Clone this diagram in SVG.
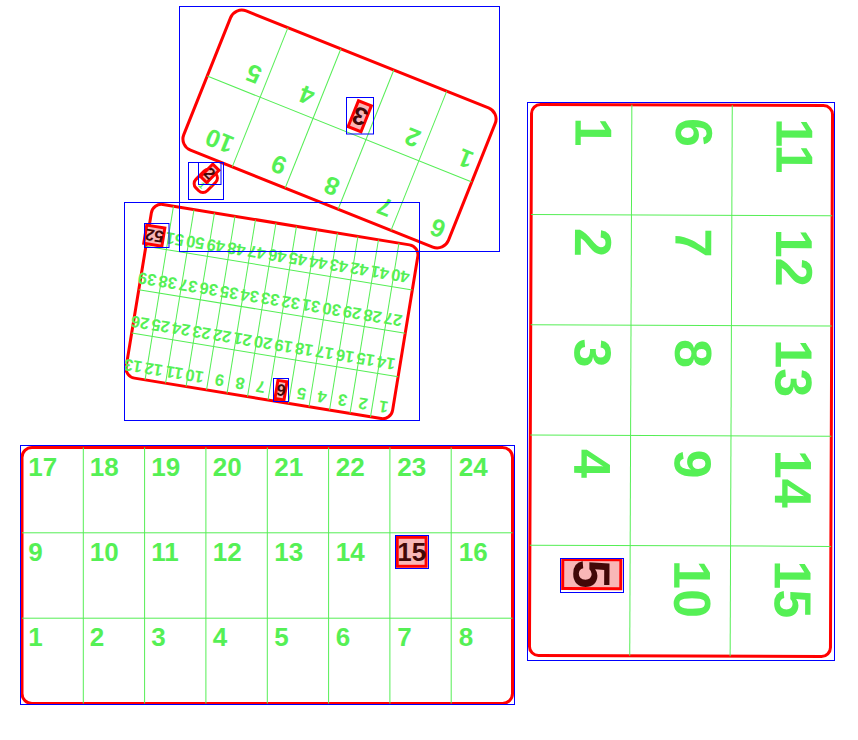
<svg xmlns="http://www.w3.org/2000/svg" width="858" height="740" viewBox="0 0 858 740">
<style>
.card{fill:none;stroke:#ff0000;stroke-width:3}
.grid{stroke:#55ee55;stroke-width:1;fill:none}
.lbl{font-family:"Liberation Sans",Arial,sans-serif;font-weight:bold;fill:#55f055}
.hl{fill:#f9b7b7;stroke:#ff0000;stroke-width:3}
.hlt{font-family:"Liberation Sans",Arial,sans-serif;font-weight:bold;fill:#420808}
.bb{fill:none;stroke:#0000ff;stroke-width:1}
</style>
<rect width="858" height="740" fill="#ffffff"/>

<g id="card-top" transform="translate(339.5,129) rotate(201.8)">
  <rect class="card" x="-142.5" y="-75" width="285" height="150" rx="12"/>
  <g class="grid">
    <line x1="-142.5" y1="0" x2="142.5" y2="0"/>
    <line x1="-85.5" y1="-75" x2="-85.5" y2="75"/>
    <line x1="-28.5" y1="-75" x2="-28.5" y2="75"/>
    <line x1="28.5" y1="-75" x2="28.5" y2="75"/>
    <line x1="85.5" y1="-75" x2="85.5" y2="75"/>
  </g>
  <rect class="hl" x="-21" y="5.4" width="13.9" height="27.9"/>
  <g class="lbl" font-size="25">
    <text x="-135" y="28">1</text>
    <text x="-78" y="28">2</text>
    <text x="36" y="28">4</text>
    <text x="93" y="28">5</text>
    <text x="-135" y="-47">6</text>
    <text x="-78" y="-47">7</text>
    <text x="-21" y="-47">8</text>
    <text x="36" y="-47">9</text>
    <text x="93" y="-47">10</text>
  </g>
  <text class="hlt" font-size="25" x="-21" y="28">3</text>
</g>

<g id="card-tiny" transform="translate(205.8,180.8) rotate(45)">
  <rect class="card" x="-8" y="-12" width="16" height="24" rx="6"/>
  <line class="grid" x1="-8" y1="0" x2="8" y2="0"/>
  <text class="lbl" font-size="9" x="-2" y="9">1</text>
  <rect class="hl" x="-6.85" y="-16.8" width="8.7" height="17.4"/>
  <text class="hlt" font-size="15.6" x="-6.85" y="-2.7">2</text>
</g>

<g id="card-middle" transform="translate(272,311.5) rotate(189.3)">
  <rect class="card" x="-135" y="-88" width="270" height="176" rx="10"/>
  <g class="grid">
    <line x1="-135" y1="-44" x2="135" y2="-44"/>
    <line x1="-135" y1="0" x2="135" y2="0"/>
    <line x1="-135" y1="44" x2="135" y2="44"/>
    <line x1="-114.23" y1="-88" x2="-114.23" y2="88"/>
    <line x1="-93.46" y1="-88" x2="-93.46" y2="88"/>
    <line x1="-72.69" y1="-88" x2="-72.69" y2="88"/>
    <line x1="-51.92" y1="-88" x2="-51.92" y2="88"/>
    <line x1="-31.15" y1="-88" x2="-31.15" y2="88"/>
    <line x1="-10.38" y1="-88" x2="-10.38" y2="88"/>
    <line x1="10.38" y1="-88" x2="10.38" y2="88"/>
    <line x1="31.15" y1="-88" x2="31.15" y2="88"/>
    <line x1="51.92" y1="-88" x2="51.92" y2="88"/>
    <line x1="72.69" y1="-88" x2="72.69" y2="88"/>
    <line x1="93.46" y1="-88" x2="93.46" y2="88"/>
    <line x1="114.23" y1="-88" x2="114.23" y2="88"/>
  </g>
  <rect class="hl" x="-26.15" y="-85.43" width="9.17" height="18.43"/>
  <rect class="hl" x="119.23" y="46.57" width="18.35" height="18.43"/>
  <g class="lbl" font-size="16.5">
    <text x="-130" y="-70.5">1</text>
    <text x="-109.23" y="-70.5">2</text>
    <text x="-88.46" y="-70.5">3</text>
    <text x="-67.69" y="-70.5">4</text>
    <text x="-46.92" y="-70.5">5</text>
    <text x="-5.38" y="-70.5">7</text>
    <text x="15.38" y="-70.5">8</text>
    <text x="36.15" y="-70.5">9</text>
    <text x="56.92" y="-70.5">10</text>
    <text x="77.69" y="-70.5">11</text>
    <text x="98.46" y="-70.5">12</text>
    <text x="119.23" y="-70.5">13</text>
    <text x="-130" y="-26.5">14</text>
    <text x="-109.23" y="-26.5">15</text>
    <text x="-88.46" y="-26.5">16</text>
    <text x="-67.69" y="-26.5">17</text>
    <text x="-46.92" y="-26.5">18</text>
    <text x="-26.15" y="-26.5">19</text>
    <text x="-5.38" y="-26.5">20</text>
    <text x="15.38" y="-26.5">21</text>
    <text x="36.15" y="-26.5">22</text>
    <text x="56.92" y="-26.5">23</text>
    <text x="77.69" y="-26.5">24</text>
    <text x="98.46" y="-26.5">25</text>
    <text x="119.23" y="-26.5">26</text>
    <text x="-130" y="17.5">27</text>
    <text x="-109.23" y="17.5">28</text>
    <text x="-88.46" y="17.5">29</text>
    <text x="-67.69" y="17.5">30</text>
    <text x="-46.92" y="17.5">31</text>
    <text x="-26.15" y="17.5">32</text>
    <text x="-5.38" y="17.5">33</text>
    <text x="15.38" y="17.5">34</text>
    <text x="36.15" y="17.5">35</text>
    <text x="56.92" y="17.5">36</text>
    <text x="77.69" y="17.5">37</text>
    <text x="98.46" y="17.5">38</text>
    <text x="119.23" y="17.5">39</text>
    <text x="-130" y="61.5">40</text>
    <text x="-109.23" y="61.5">41</text>
    <text x="-88.46" y="61.5">42</text>
    <text x="-67.69" y="61.5">43</text>
    <text x="-46.92" y="61.5">44</text>
    <text x="-26.15" y="61.5">45</text>
    <text x="-5.38" y="61.5">46</text>
    <text x="15.38" y="61.5">47</text>
    <text x="36.15" y="61.5">48</text>
    <text x="56.92" y="61.5">49</text>
    <text x="77.69" y="61.5">50</text>
    <text x="98.46" y="61.5">51</text>
  </g>
  <text class="hlt" font-size="16.5" x="-26.15" y="-70.5">6</text>
  <text class="hlt" font-size="16.5" x="119.23" y="61.5">52</text>
</g>

<g id="card-bottom">
  <rect class="card" x="22" y="447.5" width="490.5" height="256" rx="10"/>
  <g class="grid">
    <line x1="22" y1="532.8" x2="512.5" y2="532.8"/>
    <line x1="22" y1="618.2" x2="512.5" y2="618.2"/>
    <line x1="83.3" y1="447.5" x2="83.3" y2="703.5"/>
    <line x1="144.6" y1="447.5" x2="144.6" y2="703.5"/>
    <line x1="205.9" y1="447.5" x2="205.9" y2="703.5"/>
    <line x1="267.3" y1="447.5" x2="267.3" y2="703.5"/>
    <line x1="328.6" y1="447.5" x2="328.6" y2="703.5"/>
    <line x1="389.9" y1="447.5" x2="389.9" y2="703.5"/>
    <line x1="451.2" y1="447.5" x2="451.2" y2="703.5"/>
  </g>
  <rect class="hl" x="397.2" y="537.3" width="28.9" height="29"/>
  <g class="lbl" font-size="26">
    <text x="28.2" y="475.5">17</text>
    <text x="89.7" y="475.5">18</text>
    <text x="151.2" y="475.5">19</text>
    <text x="212.7" y="475.5">20</text>
    <text x="274.2" y="475.5">21</text>
    <text x="335.7" y="475.5">22</text>
    <text x="397.2" y="475.5">23</text>
    <text x="458.7" y="475.5">24</text>
    <text x="28.2" y="560.8">9</text>
    <text x="89.7" y="560.8">10</text>
    <text x="151.2" y="560.8">11</text>
    <text x="212.7" y="560.8">12</text>
    <text x="274.2" y="560.8">13</text>
    <text x="335.7" y="560.8">14</text>
    <text x="458.7" y="560.8">16</text>
    <text x="28.2" y="646.2">1</text>
    <text x="89.7" y="646.2">2</text>
    <text x="151.2" y="646.2">3</text>
    <text x="212.7" y="646.2">4</text>
    <text x="274.2" y="646.2">5</text>
    <text x="335.7" y="646.2">6</text>
    <text x="397.2" y="646.2">7</text>
    <text x="458.7" y="646.2">8</text>
  </g>
  <text class="hlt" font-size="26" x="397.2" y="560.8">15</text>
</g>

<g id="card-right" transform="rotate(0.22,681,380.5)">
  <rect class="card" x="530.5" y="105" width="301" height="551" rx="9"/>
  <g class="grid">
    <line x1="630.8" y1="105" x2="630.8" y2="656"/>
    <line x1="731.2" y1="105" x2="731.2" y2="656"/>
    <line x1="530.5" y1="215.2" x2="831.5" y2="215.2"/>
    <line x1="530.5" y1="325.4" x2="831.5" y2="325.4"/>
    <line x1="530.5" y1="435.6" x2="831.5" y2="435.6"/>
    <line x1="530.5" y1="545.8" x2="831.5" y2="545.8"/>
  </g>
  <g class="lbl" font-size="52">
    <text transform="translate(574.5,118) rotate(90)">1</text>
    <text transform="translate(574.5,228.5) rotate(90)">2</text>
    <text transform="translate(574.5,339) rotate(90)">3</text>
    <text transform="translate(574.5,449.5) rotate(90)">4</text>
    <text transform="translate(675,118) rotate(90)">6</text>
    <text transform="translate(675,228.5) rotate(90)">7</text>
    <text transform="translate(675,339) rotate(90)">8</text>
    <text transform="translate(675,449.5) rotate(90)">9</text>
    <text transform="translate(675,560) rotate(90)">10</text>
    <text transform="translate(775.5,118) rotate(90)">11</text>
    <text transform="translate(775.5,228.5) rotate(90)">12</text>
    <text transform="translate(775.5,339) rotate(90)">13</text>
    <text transform="translate(775.5,449.5) rotate(90)">14</text>
    <text transform="translate(775.5,560) rotate(90)">15</text>
  </g>
  <g transform="translate(574.5,560) rotate(90)">
    <rect class="hl" x="0" y="-47.06" width="28.9" height="58.08"/>
    <text class="hlt" font-size="52">5</text>
  </g>
</g>

<g id="bounds">
  <rect class="bb" x="179.5" y="6.5" width="320" height="245"/>
  <rect class="bb" x="346.5" y="97.5" width="27" height="36.5"/>
  <rect class="bb" x="188.5" y="162.5" width="35" height="37"/>
  <rect class="bb" x="198.5" y="162.5" width="22.5" height="22"/>
  <rect class="bb" x="124.5" y="202.5" width="295" height="218"/>
  <rect class="bb" x="144.5" y="223.5" width="24.5" height="24"/>
  <rect class="bb" x="273.5" y="378.5" width="15" height="23"/>
  <rect class="bb" x="20.5" y="445.5" width="494" height="259"/>
  <rect class="bb" x="395.5" y="535.5" width="33" height="33"/>
  <rect class="bb" x="527.5" y="102.5" width="307" height="558"/>
  <rect class="bb" x="560.5" y="558.5" width="63" height="34"/>
</g>
</svg>
